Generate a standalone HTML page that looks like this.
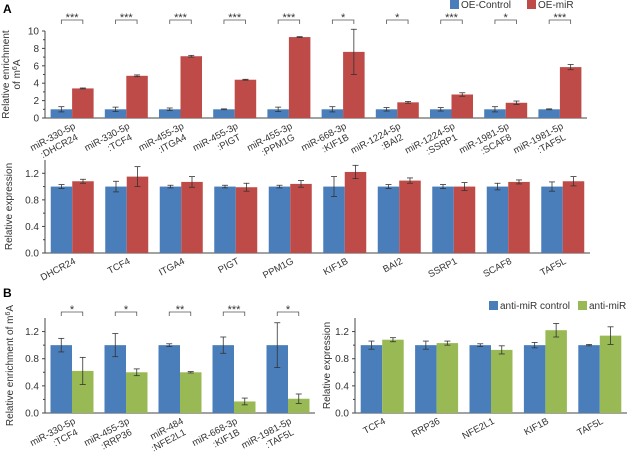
<!DOCTYPE html>
<html><head><meta charset="utf-8"><style>
body{margin:0;background:#fff}
svg{display:block;font-family:"Liberation Sans",sans-serif}
</style></head><body>
<svg id="fig" width="640" height="453" viewBox="0 0 640 453">
<text x="3" y="13" font-size="12" font-weight="bold">A</text>
<text x="3" y="297" font-size="12" font-weight="bold">B</text>
<g>
<rect x="450" y="0" width="9" height="9" fill="#4a7ebb"/>
<text x="461" y="8" font-size="10" fill="#333">OE-Control</text>
<rect x="527" y="0" width="9" height="9" fill="#be4b48"/>
<text x="538" y="8" font-size="10" fill="#333">OE-miR</text>
</g>
<g>
<rect x="489" y="301" width="9" height="9" fill="#4a7ebb"/>
<text x="500" y="309" font-size="10" fill="#333">anti-miR control</text>
<rect x="578" y="301" width="9" height="9" fill="#98b954"/>
<text x="589" y="309" font-size="10" fill="#333">anti-miR</text>
</g>
</svg>
<script>
// Panel A top
const aTopCats=[["miR-330-5p",":DHCR24"],["miR-330-5p",":TCF4"],["miR-455-3p",":ITGA4"],["miR-455-3p",":PIGT"],["miR-455-3p",":PPM1G"],["miR-668-3p",":KIF1B"],["miR-1224-5p",":BAI2"],["miR-1224-5p",":SSRP1"],["miR-1981-5p",":SCAF8"],["miR-1981-5p",":TAF5L"]];
const aTopCtrl=[1,1,1,1,1,1,1,1,1,1];
const aTopCtrlErr=[0.3,0.25,0.15,0.05,0.25,0.3,0.2,0.2,0.3,0.05];
const aTopMiR=[3.4,4.85,7.1,4.4,9.3,7.6,1.8,2.7,1.75,5.85];
const aTopMiRErr=[0.05,0.1,0.1,0.05,0.05,2.6,0.1,0.2,0.2,0.3];
const aTopSig=["***","***","***","***","***","*","*","***","*","***"];
const aTopTicks=[0,2,4,6,8,10];
// Panel A bottom
const aBotCats=["DHCR24","TCF4","ITGA4","PIGT","PPM1G","KIF1B","BAI2","SSRP1","SCAF8","TAF5L"];
const aBotCtrl=[1,1,1,1,1,1,1,1,1,1];
const aBotCtrlErr=[0.03,0.08,0.02,0.02,0.02,0.15,0.03,0.03,0.05,0.07];
const aBotMiR=[1.08,1.15,1.07,0.99,1.04,1.22,1.09,1.0,1.07,1.08];
const aBotMiRErr=[0.03,0.15,0.08,0.06,0.05,0.1,0.04,0.06,0.03,0.07];
const aBotTicks=[0,0.4,0.8,1.2];
// Panel B left
const bLCats=[["miR-330-5p",":TCF4"],["miR-455-3p",":RRP36"],["miR-484",":NFE2L1"],["miR-668-3p",":KIF1B"],["miR-1981-5p",":TAF5L"]];
const bLCtrl=[1,1,1,1,1];
const bLCtrlErr=[0.1,0.17,0.02,0.12,0.33];
const bLAnti=[0.62,0.6,0.6,0.17,0.21];
const bLAntiErr=[0.2,0.05,0.01,0.05,0.07];
const bLSig=["*","*","**","***","*"];
const bTicks=[0,0.4,0.8,1.2];
// Panel B right
const bRCats=["TCF4","RRP36","NFE2L1","KIF1B","TAF5L"];
const bRCtrl=[1,1,1,1,1];
const bRCtrlErr=[0.06,0.06,0.02,0.04,0.01];
const bRAnti=[1.08,1.03,0.93,1.22,1.14];
const bRAntiErr=[0.03,0.03,0.06,0.1,0.13];

const svg=document.getElementById('fig');
const NS='http://www.w3.org/2000/svg';
function mk(tag,attrs,parent){const e=document.createElementNS(NS,tag);for(const k in attrs)e.setAttribute(k,attrs[k]);(parent||svg).appendChild(e);return e;}

function chart(o){
  const g=mk('g',{});
  
  
  const y=v=>o.y0-(v/o.max)*(o.y0-o.yTop);
  const n=o.cats.length, pitch=(o.x1-o.x0)/n, bw=21.5;
  // axes
  const ya=mk('line',{x1:o.x0,y1:o.yTop,x2:o.x0,y2:o.y0,stroke:'#444','stroke-width':1},g);
  
  const xa=mk('line',{x1:o.x0,y1:o.y0,x2:o.x1,y2:o.y0,stroke:'#444','stroke-width':1},g);
  
  o.ticks.forEach((t,i)=>{
    const yy=y(t);
    mk('line',{x1:o.x0-3,y1:yy,x2:o.x0,y2:yy,stroke:'#444'},g);
    if(i<o.ticks.length-1){const ym=y((t+o.ticks[i+1])/2);mk('line',{x1:o.x0-2,y1:ym,x2:o.x0,y2:ym,stroke:'#444'},g);}
    const tl=mk('text',{x:o.x0-6,y:yy+3.5,'font-size':10,'text-anchor':'end',fill:'#333'},g);
    tl.textContent=o.fmt(t);
    
  });
  for(let i=0;i<n;i++){
    const xs=o.x0+pitch*i+(pitch-2*bw)/2;
    [[o.a,o.ae,o.ca,'control'],[o.b,o.be,o.cb,'treatment']].forEach((s,j)=>{
      const bx=xs+j*bw, v=s[0][i], e=s[1][i];
      const r=mk('rect',{x:bx,y:y(v),width:bw,height:o.y0-y(v),fill:s[2]},g);
      
      const cx=bx+bw/2;
      mk('line',{x1:cx,y1:y(v+e),x2:cx,y2:y(Math.max(0,v-e)),stroke:'#333','stroke-width':0.8},g);
      mk('line',{x1:cx-3,y1:y(v+e),x2:cx+3,y2:y(v+e),stroke:'#333','stroke-width':0.8},g);
      mk('line',{x1:cx-3,y1:y(Math.max(0,v-e)),x2:cx+3,y2:y(Math.max(0,v-e)),stroke:'#333','stroke-width':0.8},g);
    });
    if(o.sig){
      const bx1=xs+bw/2,bx2=xs+1.5*bw,by=o.sigY;
      mk('path',{d:`M${bx1},${by+4}V${by}H${bx2}V${by+4}`,fill:'none',stroke:'#555','stroke-width':0.8},g);
      const st=mk('text',{x:(bx1+bx2)/2,y:by+1,'font-size':11,'text-anchor':'middle',fill:'#333'},g);
      st.textContent=o.sig[i];
      
    }
    const lx=xs+bw+4, ly=o.y0+10;
    const lab=mk('text',{'font-size':9.5,'text-anchor':'end',fill:'#333',transform:`translate(${lx},${ly}) rotate(-28)`},g);
    
    const c=o.cats[i];
    if(Array.isArray(c)){
      const t1=mk('tspan',{x:0,dy:0},lab);t1.textContent=c[0];
      const t2=mk('tspan',{x:-3,dy:11},lab);t2.textContent=c[1];
    } else lab.textContent=c;
  }
  const tt=mk('text',{'font-size':10,'text-anchor':'middle',fill:'#333',transform:`translate(${o.titleX},${(o.y0+o.yTop)/2}) rotate(-90)`},g);
  
  if(Array.isArray(o.title)){
    const t1=mk('tspan',{x:0,dy:-5},tt);t1.innerHTML=o.title[0];
    const t2=mk('tspan',{x:0,dy:11},tt);t2.innerHTML=o.title[1];
  } else tt.innerHTML=o.title;
}
const B='#4a7ebb',R='#be4b48',G='#98b954';
chart({name:'chart-a-enrichment',cats:aTopCats,a:aTopCtrl,ae:aTopCtrlErr,b:aTopMiR,be:aTopMiRErr,ca:B,cb:R,sig:aTopSig,sigY:20,
  ticks:aTopTicks,max:10,x0:45,x1:587,y0:118,yTop:31,fmt:t=>String(t),title:['Relative enrichment','of m<tspan baseline-shift="super" font-size="7">6</tspan>A'],titleX:14});
chart({name:'chart-a-expression',cats:aBotCats,a:aBotCtrl,ae:aBotCtrlErr,b:aBotMiR,be:aBotMiRErr,ca:B,cb:R,
  ticks:aBotTicks,max:1.4,x0:45,x1:590,y0:253,yTop:160,fmt:t=>t.toFixed(1),title:'Relative expression',titleX:12});
chart({name:'chart-b-enrichment',cats:bLCats,a:bLCtrl,ae:bLCtrlErr,b:bLAnti,be:bLAntiErr,ca:B,cb:G,sig:bLSig,sigY:312,
  ticks:bTicks,max:1.4,x0:45,x1:315,y0:413,yTop:318,fmt:t=>t.toFixed(1),title:'Relative enrichment of m<tspan baseline-shift="super" font-size="7">6</tspan>A',titleX:13});
chart({name:'chart-b-expression',cats:bRCats,a:bRCtrl,ae:bRCtrlErr,b:bRAnti,be:bRAntiErr,ca:B,cb:G,
  ticks:bTicks,max:1.4,x0:355,x1:627,y0:413,yTop:318,fmt:t=>t.toFixed(1),title:'Relative expression',titleX:330});
</script>
</body></html>
